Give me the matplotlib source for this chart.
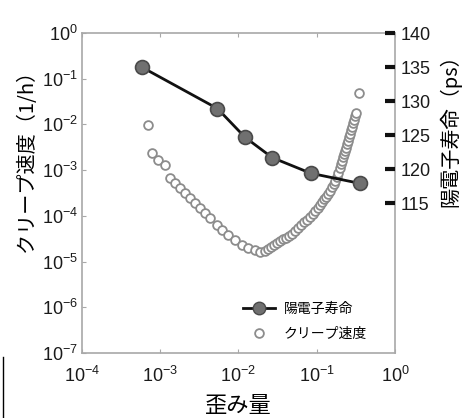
import numpy as np
import matplotlib
matplotlib.use("Agg")
import matplotlib.pyplot as plt
from matplotlib.lines import Line2D

plt.rcParams['font.family'] = ['Liberation Sans', 'Noto Sans CJK JP', 'DejaVu Sans']
plt.rcParams['mathtext.fontset'] = 'custom'
plt.rcParams['mathtext.rm'] = 'Liberation Sans'
plt.rcParams['mathtext.it'] = 'Liberation Sans'
plt.rcParams['mathtext.default'] = 'regular'

# Positron lifetime (right axis)
pos_strain = [5.8e-4, 5.4e-3, 1.21e-2, 2.7e-2, 8.4e-2, 3.6e-1]
pos_lifetime = [135.0, 128.9, 124.7, 121.7, 119.4, 117.9]

# Creep rate (left axis), log10 values
creep_strain_log = [-3.156, -3.109, -3.024, -2.939, -2.875, -2.811, -2.747, -2.683, -2.619,
                    -2.555, -2.491, -2.427, -2.363, -2.277, -2.214, -2.129, -2.043, -1.958,
                    -1.873, -1.788, -1.724,
                    -1.660, -1.621, -1.583, -1.545, -1.506, -1.468, -1.430, -1.391, -1.353,
                    -1.315, -1.276, -1.238, -1.199, -1.161, -1.123, -1.084, -1.052, -1.020,
                    -0.988, -0.957, -0.931, -0.905, -0.880, -0.854, -0.829, -0.803, -0.784,
                    -0.765, -0.746, -0.726, -0.707, -0.688, -0.675, -0.662, -0.650, -0.637,
                    -0.624, -0.611, -0.598, -0.586, -0.573, -0.560, -0.547, -0.535, -0.522,
                    -0.509, -0.496, -0.464]
creep_rate_log = [-2.013, -2.632, -2.779, -2.888, -3.179, -3.289, -3.398, -3.508, -3.617,
                  -3.726, -3.836, -3.945, -4.055, -4.201, -4.311, -4.420, -4.530, -4.639,
                  -4.711, -4.748, -4.786,
                  -4.759, -4.726, -4.689, -4.643, -4.597, -4.551, -4.515, -4.479, -4.443,
                  -4.389, -4.327, -4.265, -4.204, -4.144, -4.085, -4.026, -3.961, -3.895,
                  -3.829, -3.764, -3.702, -3.641, -3.580, -3.519, -3.457, -3.370, -3.304,
                  -3.239, -3.147, -3.055, -2.963, -2.862, -2.792, -2.722, -2.652, -2.582,
                  -2.508, -2.433, -2.359, -2.284, -2.210, -2.129, -2.050, -1.969, -1.897,
                  -1.823, -1.751, -1.313]

right_ticks = [115, 120, 125, 130, 135, 140]

creep_strain = 10.0 ** np.array(creep_strain_log)
creep_rate = 10.0 ** np.array(creep_rate_log)

fig = plt.figure(figsize=(4.68, 4.18), dpi=100)
ax = fig.add_axes([0.175, 0.1555, 0.669, 0.7655])
ax.set_xscale('log')
ax.set_yscale('log')
ax.set_xlim(1e-4, 1e0)
ax.set_ylim(1e-7, 1e0)

ax.plot(creep_strain, creep_rate, linestyle='none', marker='o', markersize=6.3,
        markerfacecolor='white', markeredgecolor='#8c8c8c', markeredgewidth=1.3, zorder=3)

for s in ax.spines.values():
    s.set_color('#a8a8a8')
    s.set_linewidth(1.2)
ax.tick_params(which='both', direction='in', colors='#a8a8a8', labelcolor='#1a1a1a',
               labelsize=13, top=True, right=False)
ax.tick_params(which='major', length=3)
ax.tick_params(axis='x', pad=9)
ax.tick_params(axis='y', pad=3)
ax.tick_params(which='minor', length=0)
ax.set_xticks([1e-4, 1e-3, 1e-2, 1e-1, 1e0])
ax.set_yticks([1e-7, 1e-6, 1e-5, 1e-4, 1e-3, 1e-2, 1e-1, 1e0])
ax.set_xlabel('歪み量', fontsize=16, family=['Noto Sans CJK JP'])
ax.xaxis.set_label_coords(0.50, -0.128)
ax.set_ylabel('クリープ速度（1/h）', fontsize=14.5, family=['Noto Sans CJK JP', 'Liberation Sans'])
ax.yaxis.set_label_coords(-0.144, 0.617)

ax2 = ax.twinx()
ax2.set_ylim(93, 140)
ax2.plot(pos_strain, pos_lifetime, color='#111111', linewidth=2.0, marker='o',
         markersize=10, markerfacecolor='#707070', markeredgecolor='#4a4a4a',
         markeredgewidth=1.2, zorder=4)
for s in ax2.spines.values():
    s.set_visible(False)
ax2.set_yticks(right_ticks)
ax2.tick_params(axis='y', direction='in', length=7, width=3, color='#111111',
                labelsize=13, labelcolor='#1a1a1a', pad=4)
ax2.set_ylabel('陽電子寿命（ps）', fontsize=14.5, family=['Noto Sans CJK JP', 'Liberation Sans'])
ax2.yaxis.set_label_coords(1.142, 0.71)

handles = [Line2D([], [], color='#111111', linewidth=2.0, marker='o', markersize=9,
                  markerfacecolor='#707070', markeredgecolor='#4a4a4a'),
           Line2D([], [], linestyle='none', marker='o', markersize=6.3,
                  markerfacecolor='white', markeredgecolor='#8c8c8c', markeredgewidth=1.3)]
ax2.legend(handles, ['陽電子寿命', 'クリープ速度'], loc='lower right',
           bbox_to_anchor=(0.95, 0.0), frameon=False,
           prop={'family': ['Noto Sans CJK JP'], 'size': 10}, handlelength=2.3,
           handletextpad=0.6, labelspacing=0.75)

fig.add_artist(Line2D([0.007, 0.007], [0.0, 0.145], color='black', linewidth=1.0))

fig.savefig('out.png', dpi=100)
